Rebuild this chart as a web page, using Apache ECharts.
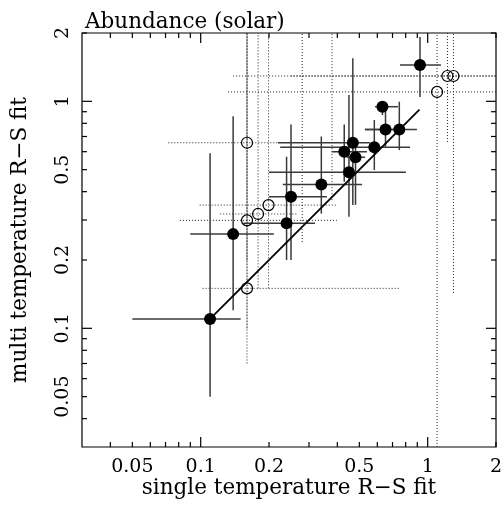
<!DOCTYPE html>
<html><head><meta charset="utf-8">
<script src="https://cdn.jsdelivr.net/npm/echarts@6/dist/echarts.min.js"></script>
<style>html,body{margin:0;padding:0;background:#fff}#c{width:504px;height:510px}</style>
</head><body><div id="c"></div>
<script>
// axis ranges and ticks
const X_MIN = 0.03, X_MAX = 2, Y_MIN = 0.03, Y_MAX = 2;
const tickLabels = [0.05, 0.1, 0.2, 0.5, 1, 2];
const majorTicks = [0.1, 1];
const minorTicks = [0.04, 0.05, 0.06, 0.07, 0.08, 0.09, 0.2, 0.3, 0.4, 0.5, 0.6, 0.7, 0.8, 0.9, 2];

// well-constrained fits (filled circles, solid error bars)
const filledX   = [0.110, 0.139, 0.239, 0.250, 0.340, 0.450, 0.468, 0.429, 0.481, 0.582, 0.632, 0.652, 0.750, 0.925];
const filledY   = [0.110, 0.260, 0.290, 0.380, 0.430, 0.487, 0.657, 0.600, 0.567, 0.627, 0.947, 0.751, 0.751, 1.445];
const filledXLo = [0.050, 0.090, 0.154, 0.200, 0.230, 0.200, 0.219, 0.378, 0.440, 0.224, 0.586, 0.529, 0.529, 0.755];
const filledXHi = [0.150, 0.210, 0.319, 0.360, 0.514, 0.802, 0.557, 0.540, 0.530, 0.836, 0.740, 0.794, 0.897, 1.144];
const filledYLo = [0.050, 0.120, 0.200, 0.200, 0.320, 0.310, 0.349, 0.442, 0.350, 0.498, 0.870, 0.631, 0.610, 1.045];
const filledYHi = [0.590, 0.860, 0.570, 0.790, 0.700, 1.066, 1.550, 0.790, 0.660, 0.827, 1.003, 0.930, 0.996, 1.920];

// poorly constrained fits (open circles, dotted error bars)
const openX   = [1.100, 1.222, 1.299, 0.160, 0.160, 0.179, 0.199, 0.160];
const openY   = [1.100, 1.293, 1.293, 0.657, 0.299, 0.319, 0.349, 0.150];
const openXLo = [0.132, 0.139, 0.250, 0.072, 0.081, 0.122, 0.099, 0.102];
const openXHi = [3.000, 3.000, 3.000, 0.219, 0.398, 0.268, 0.398, 0.755];
const openYLo = [0.020, 0.662, 0.143, 0.200, 0.100, 0.150, 0.150, 0.070];
const openYHi = [3.000, 3.000, 3.000, 3.000, 3.000, 3.000, 3.000, 3.000];

// dotted vertical error bars without a visible marker
const extraX   = [0.280, 0.379];
const extraYLo = [0.240, 0.367];
const extraYHi = [3.000, 3.000];

// one-to-one line
const lineX = [0.11, 0.92];
const lineY = [0.11, 0.92];

const FONT = '"DejaVu Serif", serif';

function cx(v){ return Math.min(Math.max(v, X_MIN), X_MAX); }
function cy(v){ return Math.min(Math.max(v, Y_MIN), Y_MAX); }

function errRender(dashed){
  return function(params, api){
    const x = api.value(0), y = api.value(1);
    const xl = api.value(2), xh = api.value(3), yl = api.value(4), yh = api.value(5);
    const style = dashed ? {stroke:'#222', lineWidth:1, lineDash:[1,2]} : {stroke:'#3a3a3a', lineWidth:1.5};
    const kids = [];
    if (!isNaN(xl)) {
      const a = api.coord([cx(xl), y]), b = api.coord([cx(xh), y]);
      kids.push({type:'line', shape:{x1:a[0], y1:a[1], x2:b[0], y2:b[1]}, style: style});
    }
    const c = api.coord([x, cy(yl)]), d = api.coord([x, cy(yh)]);
    kids.push({type:'line', shape:{x1:c[0], y1:c[1], x2:d[0], y2:d[1]}, style: style});
    return {type:'group', children: kids};
  };
}

const filledErr = filledX.map((x,i)=>[x, filledY[i], filledXLo[i], filledXHi[i], filledYLo[i], filledYHi[i]]);
const openErr = openX.map((x,i)=>[x, openY[i], openXLo[i], openXHi[i], openYLo[i], openYHi[i]]);
const extraErr = extraX.map((x,i)=>[x, (extraYLo[i]+extraYHi[i])/2, NaN, NaN, extraYLo[i], extraYHi[i]]);

const xTickData = majorTicks.map(v=>[v, Y_MIN, 1]).concat(minorTicks.map(v=>[v, Y_MIN, 0]));
const yTickData = majorTicks.map(v=>[X_MIN, v, 1]).concat(minorTicks.map(v=>[X_MIN, v, 0]));

const chart = echarts.init(document.getElementById('c'), null, {renderer:'canvas'});
chart.setOption({
  animation: false,
  backgroundColor: '#fff',
  title: {
    text: 'Abundance (solar)', left: 80, top: 6,
    textStyle: {fontFamily: FONT, fontSize: 21.5, fontWeight: 'normal', color: '#000'}
  },
  grid: {left: 82, top: 33, width: 414, height: 414, show: true, borderColor: '#000', borderWidth: 1.2, backgroundColor: 'transparent'},
  xAxis: {
    type: 'log', logBase: 10, min: X_MIN, max: X_MAX,
    axisLine: {show: false}, axisTick: {show: false}, axisLabel: {show: false}, splitLine: {show: false},
    name: 'single temperature R\u2212S fit', nameLocation: 'middle', nameGap: 30,
    nameTextStyle: {fontFamily: FONT, fontSize: 21.5, color: '#000'}
  },
  yAxis: {
    type: 'log', logBase: 10, min: Y_MIN, max: Y_MAX,
    axisLine: {show: false}, axisTick: {show: false}, axisLabel: {show: false}, splitLine: {show: false},
    name: 'multi temperature R\u2212S fit', nameLocation: 'middle', nameGap: 51, nameRotate: 90,
    nameTextStyle: {fontFamily: FONT, fontSize: 21.5, color: '#000'}
  },
  series: [
    {type:'custom', name:'openErr', renderItem: errRender(true), data: openErr, z: 1, silent: true},
    {type:'custom', name:'extraErr', renderItem: errRender(true), data: extraErr, z: 1, silent: true},
    {type:'custom', name:'filledErr', renderItem: errRender(false), data: filledErr, z: 2, silent: true},
    {type:'line', data: lineX.map((x,i)=>[x, lineY[i]]), symbol:'none', lineStyle:{color:'#000', width:1.8}, z: 3, silent: true},
    {type:'scatter', data: openX.map((x,i)=>[x, openY[i]]), symbol:'circle', symbolSize: 11,
      itemStyle:{color:'rgba(0,0,0,0)', borderColor:'#000', borderWidth:1.2, opacity: 1}, z: 4, silent: true},
    {type:'scatter', data: filledX.map((x,i)=>[x, filledY[i]]), symbol:'circle', symbolSize: 12,
      itemStyle:{color:'#000', opacity: 1}, z: 5, silent: true},
    {type:'custom', name:'xTicks', data: xTickData, z: 6, silent: true,
      renderItem: function(params, api){
        const v = api.value(0), L = api.value(2) ? 10 : 5;
        const b = api.coord([v, Y_MIN]), t = api.coord([v, Y_MAX]);
        const st = {stroke:'#000', lineWidth:1.2};
        return {type:'group', children:[
          {type:'line', shape:{x1:b[0], y1:b[1], x2:b[0], y2:b[1]-L}, style: st},
          {type:'line', shape:{x1:t[0], y1:t[1], x2:t[0], y2:t[1]+L}, style: st}
        ]};
      }},
    {type:'custom', name:'yTicks', data: yTickData, z: 6, silent: true,
      renderItem: function(params, api){
        const v = api.value(1), L = api.value(2) ? 10 : 5;
        const l = api.coord([X_MIN, v]), r = api.coord([X_MAX, v]);
        const st = {stroke:'#000', lineWidth:1.2};
        return {type:'group', children:[
          {type:'line', shape:{x1:l[0], y1:l[1], x2:l[0]+L, y2:l[1]}, style: st},
          {type:'line', shape:{x1:r[0], y1:r[1], x2:r[0]-L, y2:r[1]}, style: st}
        ]};
      }},
    {type:'custom', name:'xLabels', data: tickLabels.map(v=>[v, Y_MIN]), z: 6, silent: true,
      renderItem: function(params, api){
        const v = api.value(0), p = api.coord([v, Y_MIN]);
        return {type:'text', x: p[0], y: p[1] + 20,
          style:{text: String(v), align:'center', verticalAlign:'middle', fontFamily: FONT, fontSize: 19, fill:'#000'}};
      }},
    {type:'custom', name:'yLabels', data: tickLabels.map(v=>[X_MIN, v]), z: 6, silent: true,
      renderItem: function(params, api){
        const v = api.value(1), p = api.coord([X_MIN, v]);
        return {type:'text', x: p[0] - 19, y: p[1], rotation: Math.PI/2,
          style:{text: String(v), align:'center', verticalAlign:'middle', fontFamily: FONT, fontSize: 19, fill:'#000'}};
      }}
  ]
});
</script></body></html>
